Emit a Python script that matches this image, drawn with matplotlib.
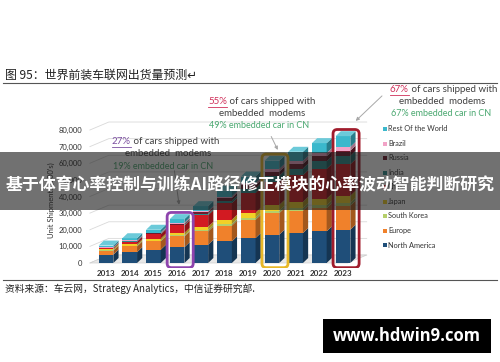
import matplotlib
matplotlib.use("Agg")
import matplotlib.pyplot as plt
import numpy as np
from matplotlib.colors import to_rgb
from matplotlib.patches import Polygon, FancyBboxPatch, Rectangle
from matplotlib.lines import Line2D

plt.rcParams["font.family"] = ["Lato", "DejaVu Sans"]
CJK = ["Noto Sans CJK SC", "DejaVu Sans"]

W, H = 500, 362

years = ["2013", "2014", "2015", "2016", "2017", "2018",
         "2019", "2020", "2021", "2022", "2023"]

# stacked from the bottom up (000's of units)
north_america = [5000, 6500, 8000, 9500, 11000, 13000, 15000, 17000, 18000, 19000, 20000]
europe = [2500, 3500, 5000, 6500, 8000, 9500, 11000, 13000, 13500, 14000, 14500]
south_korea = [300, 400, 500, 600, 800, 1000, 1200, 1400, 1500, 1600, 1700]
japan = [700, 900, 1200, 1500, 2000, 2500, 3000, 3500, 3800, 4000, 4200]
china = [500, 1500, 2500, 4500, 7000, 10000, 12000, 14000, 16000, 18000, 19000]
india = [100, 200, 300, 500, 800, 1500, 2500, 3500, 4000, 4500, 5000]
russia = [200, 300, 400, 600, 900, 1500, 2000, 2500, 2800, 3000, 3200]
brazil = [200, 300, 400, 500, 700, 1000, 1300, 1600, 1800, 2000, 2200]
rest_of_world = [1000, 1300, 1700, 2200, 3000, 3500, 4000, 5000, 5500, 6000, 6500]

series = [
    ("North America", north_america, "#1f4e79"),
    ("Europe", europe, "#f0812b"),
    ("South Korea", south_korea, "#b5cf6b"),
    ("Japan", japan, "#f2d027"),
    ("China", china, "#d21a22"),
    ("India", india, "#2b8c8c"),
    ("Russia", russia, "#6e1b2d"),
    ("Brazil", brazil, "#f2a3c7"),
    ("Rest Of the World", rest_of_world, "#3bb8cc"),
]

# highlighted years: (index, box colour, share, share colour, CN line)
highlights = [
    (3, "#8e44ad", "27%", "#7b4fa0", "19% embedded car in CN"),
    (7, "#e8b828", "55%", "#d0305a", "49% embedded car in CN"),
    (10, "#a01c2c", "67%", "#d0305a", "67% embedded car in CN"),
]


def fx(x):
    return x / W


def fy(y):
    return 1 - y / H


def shade(c, f):
    r, g, b = to_rgb(c)
    return (r * f, g * f, b * f)


def tint(c, f):
    r, g, b = to_rgb(c)
    return (r + (1 - r) * f, g + (1 - g) * f, b + (1 - b) * f)


fig = plt.figure(figsize=(5, 3.62), dpi=100)
fig.patch.set_facecolor("white")

# axes placed so that bar 0 sits at x=106px and 0 at y=263px
ax_l, ax_r, ax_t, ax_b = 85, 372, 118, 268
ax = fig.add_axes([fx(ax_l), fy(ax_b), (ax_r - ax_l) / W, (ax_b - ax_t) / H])
px_x, px_y = 23.7, 1.6625 / 1000
ax.set_xlim((ax_l - 106) / px_x, (ax_r - 106) / px_x)
ax.set_ylim(-(ax_b - 263) / px_y, (263 - ax_t) / px_y)
for s in ax.spines.values():
    s.set_visible(False)
ax.set_facecolor("none")

yt = list(range(0, 80001, 10000))
ax.set_yticks(yt)
ax.set_yticklabels([f"{v:,}" for v in yt], fontsize=5.5, color="#333333")
ax.set_xticks(range(len(years)))
ax.set_xticklabels(years, fontsize=5.8, fontweight="bold", color="#333333")
ax.tick_params(length=0)
ax.tick_params(axis="y", pad=2)
ax.tick_params(axis="x", pad=1.5)

# back wall gridlines and floor
gdx, gdy = 0.8, 4800
for v in yt:
    ax.plot([-0.68, -0.68 + gdx, 11.0], [v, v + gdy, v + gdy],
            color="#d9d9d9", lw=0.6, zorder=0)
ax.add_patch(Polygon([(-0.68, 0), (-0.68 + gdx, gdy), (11.0, gdy), (10.2, 0)],
                     closed=True, facecolor="#e8e8e8", edgecolor="#cfcfcf",
                     lw=0.5, zorder=0))

# pseudo-3D stacked bars
x = np.arange(len(years))
bw, dx, dy = 0.62, 0.22, 3000
bottom = np.zeros(len(years))
for name, vals, col in series:
    vals = np.array(vals, dtype=float)
    ax.bar(x, vals, bottom=bottom, width=bw, color=col, zorder=2, linewidth=0)
    for i in range(len(years)):
        b, t = bottom[i], bottom[i] + vals[i]
        xr = x[i] + bw / 2
        ax.add_patch(Polygon([(xr, b), (xr + dx, b + dy), (xr + dx, t + dy), (xr, t)],
                             closed=True, facecolor=shade(col, 0.68),
                             edgecolor="none", zorder=2))
    bottom = bottom + vals
totals = bottom
top_col = series[-1][2]
for i in range(len(years)):
    t = totals[i]
    ax.add_patch(Polygon([(x[i] - bw / 2, t), (x[i] - bw / 2 + dx, t + dy),
                          (x[i] + bw / 2 + dx, t + dy), (x[i] + bw / 2, t)],
                         closed=True, facecolor=tint(top_col, 0.25),
                         edgecolor="none", zorder=2))

# highlight boxes
aspect = px_x / px_y
for i, bc, *_ in highlights:
    x0, x1 = i - 0.42, i + 0.68
    y0, y1 = -2800, totals[i] + 4000
    ax.add_patch(FancyBboxPatch((x0, y0), x1 - x0, y1 - y0,
                                boxstyle="round,pad=0,rounding_size=0.18",
                                mutation_aspect=aspect, facecolor="none",
                                edgecolor=bc, lw=2.0, zorder=3))

# annotation text blocks
renderer = fig.canvas.get_renderer()
dark = "#404040"
green = "#4aa870"


def headline(xl, yc, pct, pct_col):
    t = fig.text(fx(xl), fy(yc), pct, fontsize=7, color=pct_col,
                 ha="left", va="center")
    bb = t.get_window_extent(renderer)
    yl = bb.y0 - 0.5
    fig.add_artist(Line2D([bb.x0 / W, bb.x1 / W], [yl / H, yl / H],
                          transform=fig.transFigure, color=pct_col, lw=0.6))
    fig.text(bb.x1 / W, fy(yc), " of cars shipped with", fontsize=7,
             color=dark, ha="left", va="center")


blocks = [(112, 142, 168), (208, 102, 262), (390, 90, 442)]
for (i, bc, pct, pcol, cn), (xl, yc, xm) in zip(highlights, blocks):
    headline(xl, yc, pct, pcol)
    fig.text(fx(xm), fy(yc + 11.5), "embedded  modems", fontsize=7,
             color=dark, ha="center", va="center")
    fig.text(fx(xl + 1), fy(yc + 24), cn, fontsize=6.5, color=green,
             ha="left", va="center")

# arrows from the text to the highlighted bars
arrow_kw = dict(arrowstyle="-|>", color="#a8a8a8", lw=0.7, mutation_scale=5)
ax.annotate("", xy=(3 + 0.1, totals[3] + 7000), xycoords="data",
            xytext=(fx(174), fy(168)), textcoords="figure fraction",
            arrowprops=arrow_kw, zorder=4)
ax.annotate("", xy=(7 + 0.3, totals[7] + 5000), xycoords="data",
            xytext=(fx(270), fy(134)), textcoords="figure fraction",
            arrowprops=arrow_kw, zorder=4)
ax.annotate("", xy=(10 + 0.45, totals[10] + 8000), xycoords="data",
            xytext=(fx(384), fy(94)), textcoords="figure fraction",
            arrowprops=arrow_kw, zorder=4)

# legend (top entry first)
for k, (name, vals, col) in enumerate(reversed(series)):
    yy = 129 + 14.5 * k
    fig.add_artist(Rectangle((fx(382.5), fy(yy + 2)), 4 / W, 4 / H,
                             transform=fig.transFigure, facecolor=col,
                             edgecolor="none"))
    fig.text(fx(388), fy(yy), name, fontsize=5.3, color="#333333",
             ha="left", va="center")

fig.text(fx(51), fy(200), "Unit Shipments (000's)", fontsize=5.5,
         color="#333333", rotation=90, ha="center", va="center")

# title, rules, source
fig.text(fx(5), fy(75), "图 95：世界前装车联网出货量预测↵", fontsize=8.6,
         color="#222222", family=CJK, ha="left", va="center")
fig.add_artist(Line2D([fx(3), fx(497)], [fy(83), fy(83)],
                      transform=fig.transFigure, color="#555555", lw=0.8))
fig.add_artist(Line2D([fx(3), fx(497)], [fy(280), fy(280)],
                      transform=fig.transFigure, color="#555555", lw=0.8))
fig.text(fx(5), fy(289), "资料来源：车云网，Strategy Analytics，中信证券研究部.",
         fontsize=7, color="#222222", family=CJK, ha="left", va="center")

# overlay banner
fig.add_artist(Rectangle((0, fy(210)), 1, 58 / H, transform=fig.transFigure,
                         facecolor="#1a1a1a", alpha=0.62, edgecolor="none",
                         zorder=10))
fig.text(0.5, fy(185), "基于体育心率控制与训练AI路径修正模块的心率波动智能判断研究",
         fontsize=12.2, fontweight="bold", color="white", family=CJK,
         ha="center", va="center", zorder=11)

# watermark box
fig.add_artist(Rectangle((fx(323), fy(353)), 168 / W, 34 / H,
                         transform=fig.transFigure, facecolor="black",
                         edgecolor="none", zorder=10))
fig.text(fx(407), fy(336), "www.hdwin9.com", fontsize=12, fontweight="bold",
         color="white", family=["Open Sans", "DejaVu Sans"],
         ha="center", va="center", zorder=11)

fig.savefig("out.png", dpi=100)
